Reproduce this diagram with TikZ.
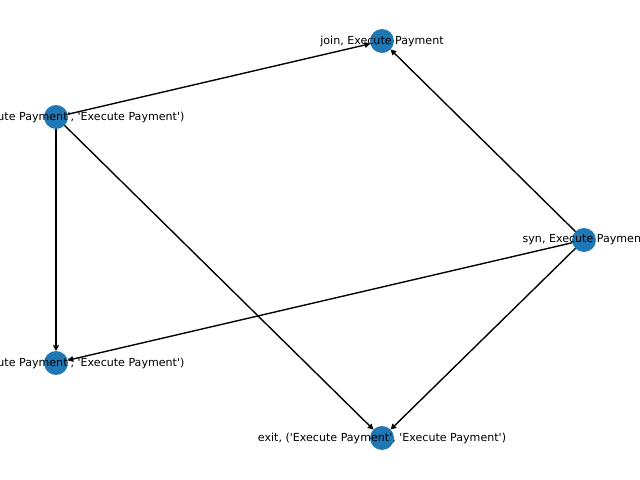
\documentclass[tikz,border=0pt]{standalone}
\usepackage{fontspec}
\setmainfont{DejaVu Sans}[Ligatures=TeXOff]
\newfontfamily\lblfont{DejaVu Sans}
\usetikzlibrary{arrows.meta}
\definecolor{nxblue}{HTML}{1F77B4}
\begin{document}
\begin{tikzpicture}[x=0.01in,y=-0.01in,
  vtx/.style={circle,fill=nxblue,minimum size=17.32pt,inner sep=0pt,outer sep=0pt},
  lbl/.style={font=\lblfont\fontsize{8}{9.6}\selectfont,inner sep=0pt,text=black},
  edge/.style={draw=black,line width=1pt,-{Triangle[length=4pt,width=4pt]}}]
\useasboundingbox (0,0) rectangle (640,480);
\clip (0,0) rectangle (640,480);
% vertices
\node[vtx] (a) at (56,117) {};
\node[vtx] (b) at (382,41) {};
\node[vtx] (c) at (584,240) {};
\node[vtx] (d) at (56,363) {};
\node[vtx] (e) at (382,438) {};
% edges
\draw[edge] (a) -- (b);
\draw[edge] (a) -- (d);
\draw[edge] (a) -- (e);
\draw[edge] (c) -- (b);
\draw[edge] (c) -- (d);
\draw[edge] (c) -- (e);
% labels
\node[lbl] (la) at (a.center) {entry, ('Execute Payment', 'Execute Payment')};
\node[lbl] (lb) at (b.center) {join, Execute Payment};
\node[lbl] (lc) at (c.center) {syn, Execute Payment};
\node[lbl] (ld) at (d.center) {entry, ('Execute Payment', 'Execute Payment')};
\node[lbl] (le) at (e.center) {exit, ('Execute Payment', 'Execute Payment')};
\end{tikzpicture}
\end{document}
